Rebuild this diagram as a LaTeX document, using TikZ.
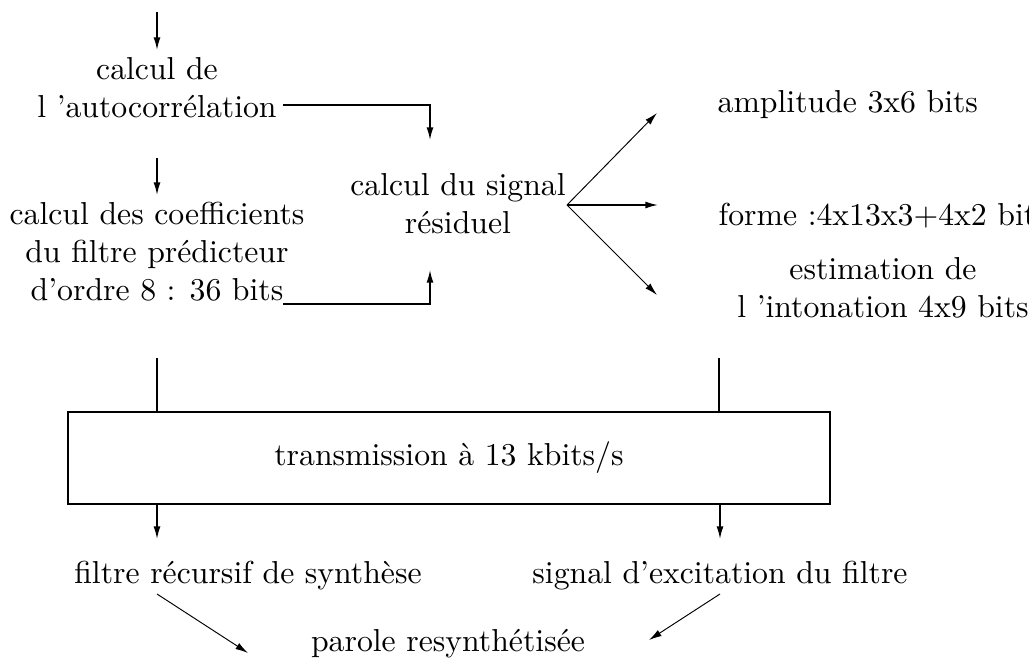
\documentclass[tikz,border=0pt]{standalone}
\usetikzlibrary{arrows.meta}
\begin{document}
\begin{tikzpicture}[x=0.315pt,y=-0.315pt,
  lbl/.style={align=center,inner sep=0pt},
  ln/.style={line width=0.45pt},
  arr/.style={ln,-{Latex[length=4pt,width=2.2pt]}},
  thinarr/.style={line width=0.3pt,-{Latex[length=4pt,width=2.2pt]}}]
\useasboundingbox (0,0) rectangle (1029,661);
\clip (0,0) rectangle (1029,661);

% analysis side
\node[lbl] (autoc) at (157,88) {calcul de\\l 'autocorr\'elation};
\node[lbl] (coef) at (157,252) {calcul des coefficients\\du filtre pr\'edicteur\\d'ordre 8 : 36 bits};
\node[lbl] (resid) at (458,204) {calcul du signal\\r\'esiduel};

% parameters sent
\node[lbl,anchor=west] (ampl) at (717,105) {amplitude 3x6 bits};
\node[lbl,anchor=west] (forme) at (718,216) {forme :4x13x3+4x2 bits};
\node[lbl] (inton) at (883,288) {estimation de\\l 'intonation 4x9 bits};

% channel
\node[draw,ln,minimum width=240pt,minimum height=29pt,inner sep=0pt] (trans) at (449,458) {transmission \`a 13 kbits/s};

% synthesis side
\node[lbl] (filt) at (248,576) {filtre r\'ecursif de synth\`ese};
\node[lbl] (excit) at (720,576) {signal d'excitation du filtre};
\node[lbl] (parole) at (448,644) {parole resynth\'etis\'ee};

% connector end points
\coordinate (in) at (157,12);
\coordinate (autoTop) at (157,50);
\coordinate (autoBot) at (157,158);
\coordinate (coefTop) at (157,195);
\coordinate (autoOut) at (283,105);
\coordinate (residIn) at (430,140);
\coordinate (coefOut) at (283,304);
\coordinate (residIn2) at (430,270);
\coordinate (fan) at (567,205);
\coordinate (ampIn) at (657,113);
\coordinate (formeIn) at (658,205);
\coordinate (intIn) at (657,295);
\coordinate (leftDown) at (157,358);
\coordinate (rightDown) at (719,358);
\coordinate (filtIn) at (157,539);
\coordinate (excitIn) at (720,539);
\coordinate (filtOut) at (157,594);
\coordinate (excitOut) at (720,594);
\coordinate (paroleL) at (248,653);
\coordinate (paroleR) at (649,640);

\draw[arr] (in) -- (autoTop);
\draw[arr] (autoBot) -- (coefTop);
\draw[arr] (autoOut) -| (residIn);
\draw[arr] (coefOut) -| (residIn2);
\draw[thinarr] (fan) -- (ampIn);
\draw[arr] (fan) -- (formeIn);
\draw[thinarr] (fan) -- (intIn);
\draw[ln] (leftDown) -- (leftDown |- trans.north);
\draw[ln] (rightDown) -- (rightDown |- trans.north);
\draw[arr] (filtIn |- trans.south) -- (filtIn);
\draw[arr] (excitIn |- trans.south) -- (excitIn);
\draw[thinarr] (filtOut) -- (paroleL);
\draw[thinarr] (excitOut) -- (paroleR);
\end{tikzpicture}
\end{document}
